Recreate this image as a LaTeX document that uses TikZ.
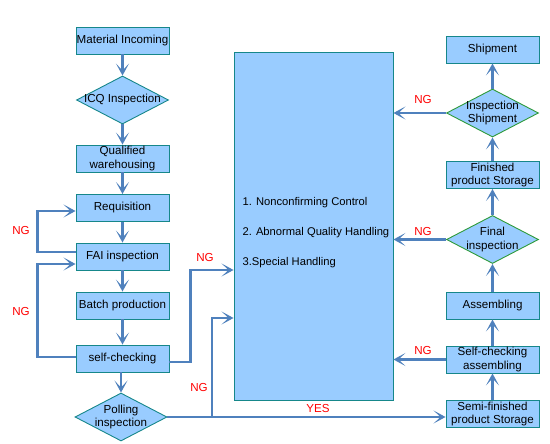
\documentclass[tikz,border=0pt]{standalone}
\usepackage{fontspec}
\setmainfont{Liberation Sans}
\usetikzlibrary{positioning,arrows.meta,shapes.geometric}

\definecolor{boxfill}{HTML}{99CCFF}
\definecolor{boxline}{HTML}{16878A}
\definecolor{diamline}{HTML}{2E9A3A}
\definecolor{flowline}{HTML}{4F81BD}
\definecolor{ngred}{HTML}{FF0000}

\tikzset{
  stepbox/.style={rectangle, draw=boxline, fill=boxfill, line width=0.9pt,
    minimum width=93pt, minimum height=27pt, inner sep=0pt, align=center,
    font=\fontsize{11.6}{13.8}\selectfont},
  decision/.style={diamond, draw=boxline, fill=boxfill, line width=0.9pt,
    minimum width=92pt, minimum height=48pt, inner sep=0pt},
  dtext/.style={align=center, font=\fontsize{11.6}{13.8}\selectfont},
  bigbox/.style={rectangle, draw=boxline, fill=boxfill, line width=0.9pt,
    minimum width=159pt, minimum height=348pt, inner sep=0pt},
  flow/.style={draw=flowline, line width=2.6pt,
    -{Stealth[length=12pt,width=13pt,inset=7pt]}},
  ng/.style={text=ngred, font=\fontsize{11.6}{13}\selectfont}
}

\begin{document}
\begin{tikzpicture}[x=1pt,y=-1pt]

\useasboundingbox (0,0) rectangle (550,444);

\node[stepbox] (mat) at (122.5,40.5) {Material Incoming};
\node[decision, label={[dtext]center:ICQ Inspection}] (icq) at (122.5,100) {};
\node[stepbox] (qual) at (122.5,158.5) {Qualified\\warehousing};
\node[stepbox] (req) at (122.5,208) {Requisition};
\node[stepbox] (fai) at (122.5,256.5) {FAI inspection};
\node[stepbox] (batch) at (122.5,305.5) {Batch production};
\node[stepbox] (self) at (122.5,358.5) {self-checking};
\node[decision, label={[dtext]center:{Polling\\inspection}}] (poll) at (121,417) {};

\node[bigbox] (ctrl) at (313.5,226) {};
\node[anchor=west, align=left, font=\fontsize{11.2}{30}\selectfont] (hlist) at (239,233)
  {1. Nonconfirming Control\\2. Abnormal Quality Handling\\3.Special Handling};

\node[stepbox] (ship) at (492.5,49.5) {Shipment};
\node[decision, draw=diamline, label={[dtext]center:{Inspection\\Shipment}}] (insp) at (492.5,113) {};
\node[stepbox] (fps) at (492.5,175) {Finished\\product Storage};
\node[decision, draw=diamline, label={[dtext]center:{Final\\inspection}}] (fin) at (492.5,239.5) {};
\node[stepbox] (asm) at (492.5,305.5) {Assembling};
\node[stepbox] (sca) at (492.5,359.5) {Self-checking\\assembling};
\node[stepbox] (semi) at (492.5,414) {Semi-finished\\product Storage};

\draw[flow] (mat) -- (icq);
\draw[flow] (icq) -- (qual);
\draw[flow] (qual) -- (req);
\draw[flow] (req) -- (fai);
\draw[flow] (fai) -- (batch);
\draw[flow] (batch) -- (self);
\draw[flow] (self.south -| poll.north) -- (poll.north);

\draw[flow] ([yshift=4.5pt]fai.west) -- ++(-38,0) |- ([yshift=-3pt]req.west);
\draw[flow] ([yshift=1.5pt]self.west) -- ++(-38,0) |- ([yshift=-7.5pt]fai.west);
\node[ng] (ng1) at (21,231) {NG};
\node[ng] (ng2) at (21,312) {NG};

\draw[flow] ([yshift=-3.5pt]self.east) -- ++(21,0) |- ([yshift=-44pt]ctrl.west);
\node[ng] (ng3) at (205,258) {NG};

\coordinate (split) at (212,417);
\draw[flow] (poll.east) -- (poll.east -| semi.west);
\draw[flow] (split) |- ([yshift=-92pt]ctrl.west);
\node[ng] (ng4) at (199,388) {NG};
\node[ng] (yes) at (318,409) {YES};

\draw[flow] (semi) -- (sca);
\draw[flow] (sca) -- (asm);
\draw[flow] (asm) -- (fin);
\draw[flow] (fin) -- (fps);
\draw[flow] (fps) -- (insp);
\draw[flow] (insp) -- (ship);

\draw[flow] (insp.west) -- (insp.west -| ctrl.east);
\draw[flow] (fin.west) -- (fin.west -| ctrl.east);
\draw[flow] (sca.west) -- (sca.west -| ctrl.east);
\node[ng] (ng5) at (423,100) {NG};
\node[ng] (ng6) at (423,232) {NG};
\node[ng] (ng7) at (423,351) {NG};

\end{tikzpicture}
\end{document}
